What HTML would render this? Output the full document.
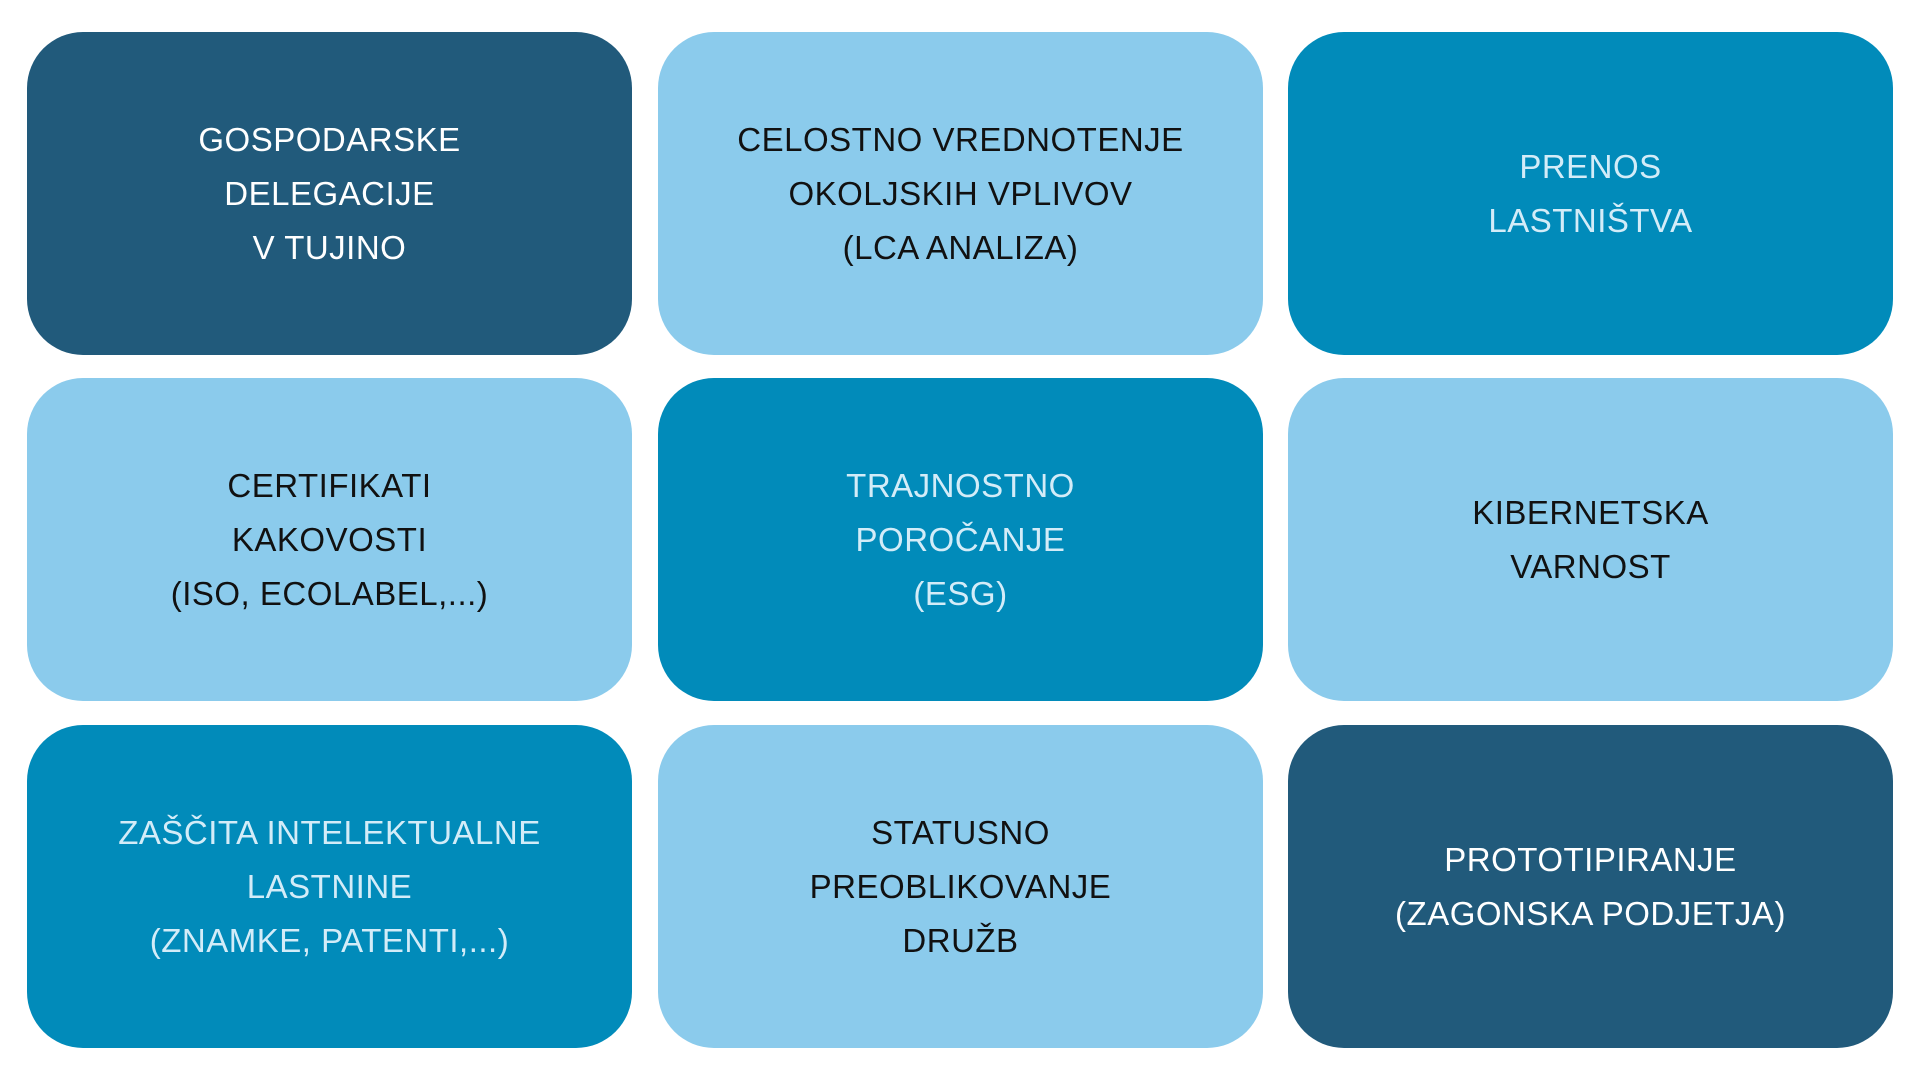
<!DOCTYPE html>
<html><head><meta charset="utf-8"><style>
html,body{margin:0;padding:0;background:#fff;width:1920px;height:1080px;overflow:hidden}
.b{position:absolute;width:605px;height:323px;border-radius:56px;display:flex;align-items:center;justify-content:center;text-align:center;font-family:"Liberation Sans",sans-serif;font-size:33px;line-height:54px;letter-spacing:0.5px}
.d{background:#215a7b;color:#fff}
.m{background:#018bba;color:#d3ecf8}
.l{background:#8bcbec;color:#111}
</style></head><body>
<div class="b d" style="left:27px;top:32px">GOSPODARSKE<br>DELEGACIJE<br>V TUJINO</div>
<div class="b l" style="left:658px;top:32px">CELOSTNO VREDNOTENJE<br>OKOLJSKIH VPLIVOV<br>(LCA ANALIZA)</div>
<div class="b m" style="left:1288px;top:32px">PRENOS<br>LASTNIŠTVA</div>
<div class="b l" style="left:27px;top:378px">CERTIFIKATI<br>KAKOVOSTI<br>(ISO, ECOLABEL,...)</div>
<div class="b m" style="left:658px;top:378px">TRAJNOSTNO<br>POROČANJE<br>(ESG)</div>
<div class="b l" style="left:1288px;top:378px">KIBERNETSKA<br>VARNOST</div>
<div class="b m" style="left:27px;top:725px">ZAŠČITA INTELEKTUALNE<br>LASTNINE<br>(ZNAMKE, PATENTI,...)</div>
<div class="b l" style="left:658px;top:725px">STATUSNO<br>PREOBLIKOVANJE<br>DRUŽB</div>
<div class="b d" style="left:1288px;top:725px">PROTOTIPIRANJE<br>(ZAGONSKA PODJETJA)</div>
</body></html>
